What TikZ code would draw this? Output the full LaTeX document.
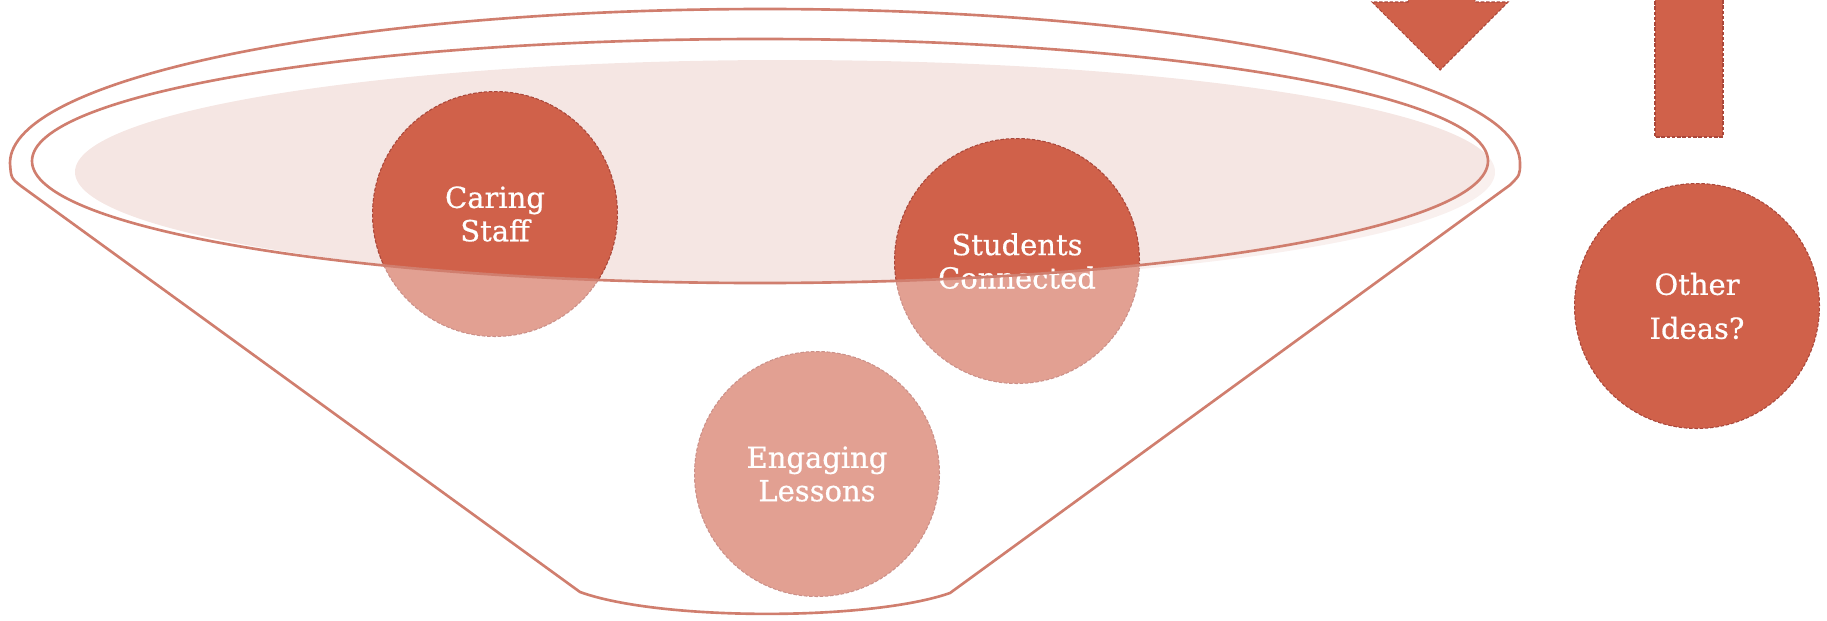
\documentclass[tikz,border=0pt]{standalone}
\usepackage{fontspec}
\newfontfamily\ideafont[FakeBold=0.6]{DejaVu Serif}
\usetikzlibrary{positioning}

\definecolor{rust}{HTML}{D0614A}
\definecolor{rustdark}{HTML}{A9473A}
\definecolor{rimline}{HTML}{D07E6E}
\definecolor{rimfill}{HTML}{F5E6E3}

\begin{document}
\begin{tikzpicture}[
            x = 0.02cm, y = -0.02cm, % one unit per pixel, y downwards
            semithick % line style
        ]

        \tikzstyle{idea}=[
            circle,
            fill = rust,
            draw = rustdark,
            dash pattern = on 2pt off 1pt,
            line width = 0.6pt,
            minimum size = 4.9cm,
            text = white,
            align = center,
            font = \ideafont\fontsize{16.5}{19}\selectfont
        ]
        \tikzstyle{rim}=[draw = rimline, line width = 1.5pt]
        \tikzstyle{pointer}=[
            fill = rust,
            draw = rustdark,
            dash pattern = on 2pt off 1pt,
            line width = 0.6pt
        ]

        \useasboundingbox (0,0) rectangle (1827,620);
        \clip (0,0) rectangle (1827,620);

        % opening of the funnel
        \fill[rimfill] (785,172) ellipse [x radius=710, y radius=112];

        \node[idea] (caring) at (495,214) {Caring\\Staff};
        \node[idea] (students) at (1017,261) {Students\\Connected};
        \node[idea] (lessons) at (817,474) {Engaging\\Lessons};

        % body of the funnel, laid over the circles
        \path[rim, fill = white, fill opacity = 0.4, even odd rule]
            (21,186) .. controls (11,178) .. (10,163)
            arc [start angle=180, end angle=360, x radius=755, y radius=154]
            .. controls (1520,175) .. (1510,185)
            -- (950,593) .. controls (870,621) and (660,621) .. (580,592)
            -- cycle
            (760,161) ellipse [x radius=728, y radius=122];

        % arrow and bar on the right
        \filldraw[pointer] (1408,-20) -- (1408,2) -- (1372,2) -- (1440,70)
            -- (1508,2) -- (1475,2) -- (1475,-20) -- cycle;
        \filldraw[pointer] (1655,-20) rectangle (1723,137);

        \node[idea, font = \ideafont\fontsize{16.5}{25}\selectfont] (other) at (1697,306) {Other\\Ideas?};

    \end{tikzpicture}
\end{document}
